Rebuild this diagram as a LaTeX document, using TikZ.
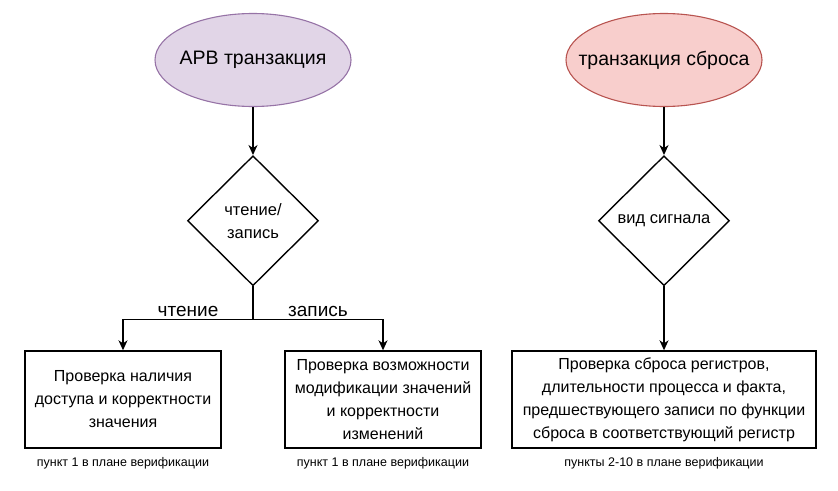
\documentclass[tikz,border=0pt]{standalone}
\usepackage{fontspec}
\setmainfont{Liberation Sans}
\usetikzlibrary{positioning,shapes.geometric,arrows.meta}
\definecolor{arvfill}{HTML}{E1D5E7}
\definecolor{arvline}{HTML}{9673A6}
\definecolor{rstfill}{HTML}{F8CECC}
\definecolor{rstline}{HTML}{B85450}

\begin{document}
\begin{tikzpicture}[x=1pt,y=-1pt,line width=1.4pt,
		>={Stealth[length=10pt,width=9pt,inset=3pt]},
		start/.style={ellipse,draw,line width=1.1pt,minimum width=196pt,minimum height=93pt,inner xsep=-20pt,inner ysep=0pt,font=\fontsize{19.5}{22}\selectfont},
		choice/.style={diamond,draw,minimum width=131pt,minimum height=130pt,inner sep=0pt,align=center,font=\fontsize{16.5}{23}\selectfont},
		check/.style={rectangle,draw,minimum height=97pt,inner sep=0pt,align=center,font=\fontsize{16}{23}\selectfont},
		note/.style={inner sep=1pt,font=\fontsize{12.5}{14}\selectfont},
		branch/.style={inner sep=2pt,font=\fontsize{19}{21}\selectfont}]
		\useasboundingbox (0,0) rectangle (838,490);
		\node[start,fill=arvfill,draw=arvline] (arv) at (253,60) {АРВ транзакция};
		\node[start,fill=rstfill,draw=rstline] (rst) at (664,60) {транзакция сброса};
		\node[choice,below=48pt of arv] (rw) {чтение/\\запись};
		\node[choice,below=48pt of rst] (sig) {вид сигнала};
		\node[check,minimum width=196pt] (rd) at (123,399.5) {Проверка наличия\\доступа и корректности\\значения};
		\node[check,minimum width=196pt] (wr) at (383,399.5) {Проверка возможности\\модификации значений\\и корректности\\изменений};
		\node[check,minimum width=304pt] (chk) at (664,399.5) {Проверка сброса регистров,\\длительности процесса и факта,\\предшествующего записи по функции\\сброса в соответствующий регистр};
		\node[note,below=7pt of rd] (rdn) {пункт 1 в плане верификации};
		\node[note,below=7pt of wr] (wrn) {пункт 1 в плане верификации};
		\node[note,below=7pt of chk] (chkn) {пункты 2-10 в плане верификации};
		\coordinate[below=33pt of rw.south] (fork);
		\draw[->] (arv) -- (rw);
		\draw[->] (rst) -- (sig);
		\draw (rw.south) -- (fork);
		\draw[->] (fork) -| node[branch,pos=0.25,above] {чтение} (rd);
		\draw[->] (fork) -| node[branch,pos=0.25,above] {запись} (wr);
		\draw[->] (sig) -- (chk);
\end{tikzpicture}
\end{document}
